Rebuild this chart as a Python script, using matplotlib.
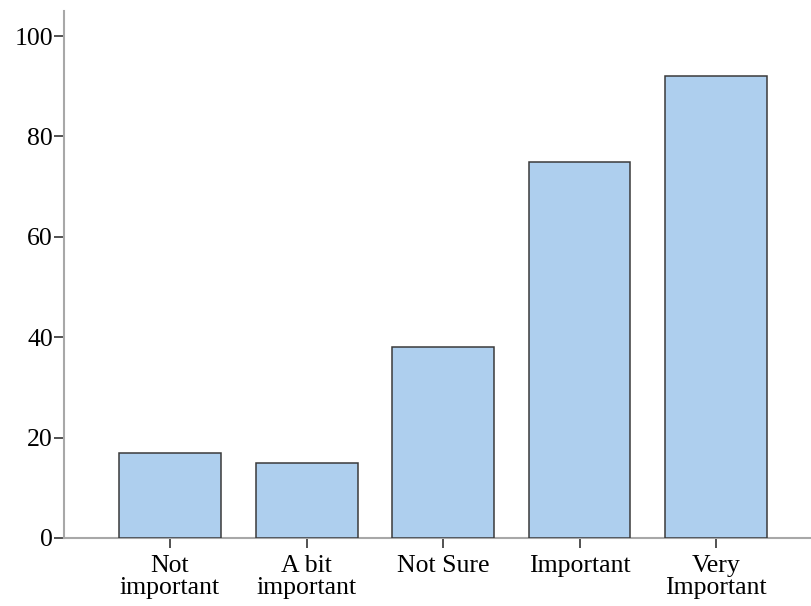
import matplotlib
matplotlib.use("Agg")
import matplotlib.pyplot as plt

categories = ["Not\nimportant", "A bit\nimportant", "Not Sure", "Important", "Very\nImportant"]
values = [17, 15, 38, 75, 92]
yticks = [0, 20, 40, 60, 80, 100]

plt.rcParams['font.family'] = ['Liberation Serif', 'DejaVu Serif']

fig = plt.figure(figsize=(8.11, 6.06), dpi=100)
ax = fig.add_axes([64/811, 1-538/606, 1-64/811, (538-11)/606])

x = list(range(len(categories)))
ax.bar(x, values, width=0.747, color="#AECFEE", edgecolor="#3a3a3a", linewidth=1.1, zorder=3)

ax.set_xlim(-0.777, 4.696)
ax.set_ylim(0, 105)
ax.set_yticks(yticks)
ax.set_xticks(x)
ax.set_xticklabels(categories, linespacing=1.0)

for s in ["top", "right"]:
    ax.spines[s].set_visible(False)
for s in ["left", "bottom"]:
    ax.spines[s].set_color("#a8a8a8")
    ax.spines[s].set_linewidth(1.5)

ax.tick_params(axis="both", direction="out", length=7, width=1.2, color="#333333",
               labelsize=18.5, labelcolor="black")
ax.tick_params(axis="y", pad=1)
ax.tick_params(axis="x", pad=5.5)

fig.savefig("out.png", dpi=100)
